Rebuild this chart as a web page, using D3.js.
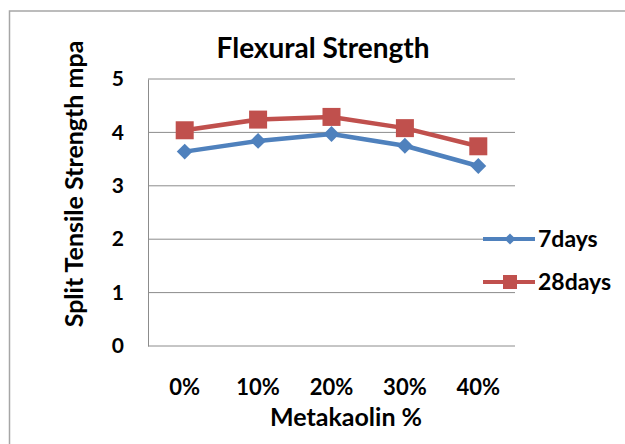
<!DOCTYPE html>
<html lang="en">
<head>
  <script src="https://d3js.org/d3.v7.min.js"></script>
  <style>
    body { margin: 0; background: #fff; }
    text { font-family: Lato, "Open Sans", sans-serif; font-weight: bold; fill: #000; }
  </style>
</head>
<body>
  <script>
    // chart data
    const categories = ["0%", "10%", "20%", "30%", "40%"];
    const days7 = [3.64, 3.84, 3.97, 3.75, 3.37];
    const days28 = [4.04, 4.24, 4.29, 4.08, 3.74];
    const yTicks = [0, 1, 2, 3, 4, 5];

    const width = 625, height = 444;
    const plotLeft = 148, plotRight = 515, plotTop = 79, plotBottom = 346;

    const svg = d3.select("body").append("svg")
      .attr("width", width).attr("height", height);

    // outer frame
    svg.append("rect")
      .attr("x", 9.5).attr("y", 11)
      .attr("width", 640).attr("height", 460)
      .attr("fill", "none").attr("stroke", "#a6a6a6").attr("stroke-width", 1.5);

    const x = d3.scaleBand().domain(categories).range([plotLeft, plotRight]);
    const y = d3.scaleLinear().domain([0, 5]).range([plotBottom, plotTop]);

    // gridlines
    svg.append("g").selectAll("line")
      .data(yTicks)
      .join("line")
      .attr("x1", plotLeft).attr("x2", plotRight)
      .attr("y1", d => y(d)).attr("y2", d => y(d))
      .attr("stroke", "#8c8c8c").attr("stroke-width", 1);

    // y axis
    const yAxis = svg.append("g")
      .attr("transform", `translate(${plotLeft},0)`)
      .call(d3.axisLeft(y).tickValues(yTicks).tickFormat(d3.format("d")).tickSize(0).tickPadding(24));
    yAxis.select(".domain").attr("stroke", "#8c8c8c");
    yAxis.selectAll("text").style("font-size", "21px");

    // x axis labels
    const xAxis = svg.append("g")
      .attr("transform", `translate(0,${plotBottom})`)
      .call(d3.axisBottom(x).tickSize(0).tickPadding(33));
    xAxis.select(".domain").remove();
    xAxis.selectAll("text").style("font-size", "22px");

    // title and axis titles
    svg.append("text")
      .attr("x", 323).attr("y", 58)
      .attr("text-anchor", "middle")
      .style("font-size", "28px")
      .text("Flexural Strength");

    svg.append("text")
      .attr("x", 346).attr("y", 426)
      .attr("text-anchor", "middle")
      .style("font-size", "25px")
      .text("Metakaolin %");

    svg.append("text")
      .attr("transform", "translate(83,184) rotate(-90)")
      .attr("text-anchor", "middle")
      .style("font-size", "25px")
      .text("Split Tensile Strength  mpa");

    const cx = d => x(d) + x.bandwidth() / 2;
    const line = d3.line()
      .x((d, i) => cx(categories[i]))
      .y(d => y(d));

    const series = [
      { name: "7days", values: days7, color: "#4f81bd" },
      { name: "28days", values: days28, color: "#c0504d" }
    ];

    series.forEach(s => {
      svg.append("path")
        .datum(s.values)
        .attr("fill", "none")
        .attr("stroke", s.color)
        .attr("stroke-width", 4.5)
        .attr("stroke-linejoin", "round")
        .attr("d", line);
    });

    // markers
    svg.append("g").selectAll("path")
      .data(days7)
      .join("path")
      .attr("transform", (d, i) => `translate(${cx(categories[i])},${y(d)})`)
      .attr("d", d3.symbol(d3.symbolDiamond2, 160))
      .attr("fill", "#4f81bd");

    svg.append("g").selectAll("rect")
      .data(days28)
      .join("rect")
      .attr("x", (d, i) => cx(categories[i]) - 9)
      .attr("y", d => y(d) - 9)
      .attr("width", 18).attr("height", 18)
      .attr("fill", "#c0504d");

    // legend
    const legend = svg.append("g");
    const legendY = [239, 282];
    series.forEach((s, i) => {
      const g = legend.append("g").attr("transform", `translate(483,${legendY[i]})`);
      g.append("line").attr("x1", 0).attr("x2", 52)
        .attr("stroke", s.color).attr("stroke-width", 4);
      if (i === 0) {
        g.append("path").attr("transform", "translate(27,0)")
          .attr("d", d3.symbol(d3.symbolDiamond2, 80)).attr("fill", s.color);
      } else {
        g.append("rect").attr("x", 20).attr("y", -7)
          .attr("width", 14).attr("height", 14).attr("fill", s.color);
      }
      g.append("text").attr("x", 55).attr("y", 8)
        .style("font-size", "23px")
        .text(s.name);
    });
  </script>
</body>
</html>
